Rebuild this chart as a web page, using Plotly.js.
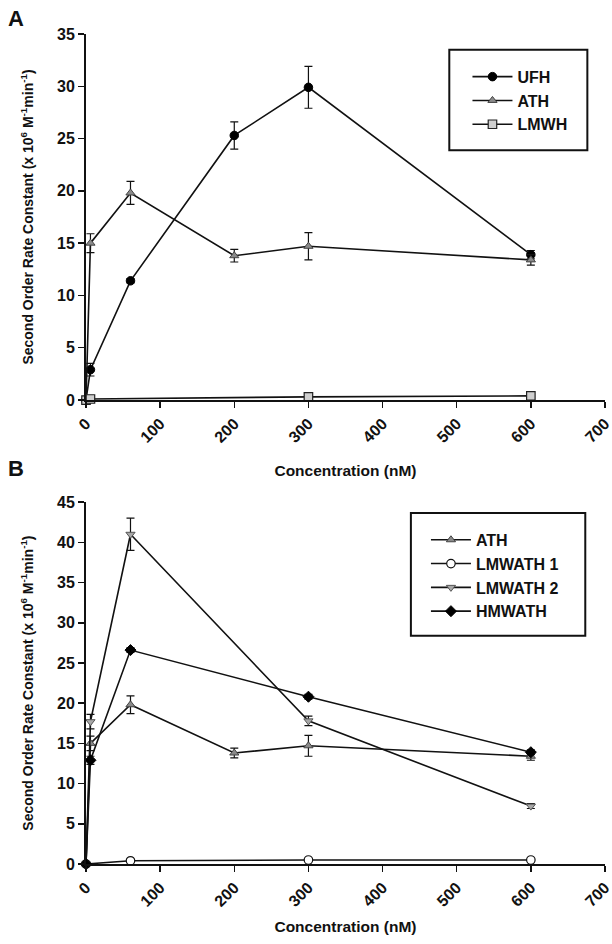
<!DOCTYPE html>
<html><head><meta charset="utf-8">
<script src="https://cdn.plot.ly/plotly-3.0.1.min.js"></script>
<style>body{margin:0;background:#fff}#c{width:612px;height:944px}</style>
</head><body><div id="c"></div>
<script>
// Panel A
const ufhX = [0, 6, 60, 200, 300, 600];
const ufhY = [0, 2.9, 11.4, 25.3, 29.9, 13.9];
const ufhE = [0, 0.6, 0.2, 1.3, 2.0, 0.4];
const athX = [0, 6, 60, 200, 300, 600];
const athY = [0, 15.0, 19.8, 13.8, 14.7, 13.4];
const athE = [0, 0.9, 1.1, 0.6, 1.3, 0.5];
const lmwhX = [0, 6, 300, 600];
const lmwhY = [0, 0.1, 0.3, 0.4];
const lmwhE = [0, 0.1, 0.1, 0.1];
// Panel B
const lmwath1X = [0, 60, 300, 600];
const lmwath1Y = [0, 0.4, 0.5, 0.5];
const lmwath1E = [0, 0.05, 0.05, 0.05];
const lmwath2X = [0, 6, 60, 300, 600];
const lmwath2Y = [0, 17.7, 41.0, 17.8, 7.2];
const lmwath2E = [0, 0.9, 2.0, 0.6, 0.3];
const hmwathX = [0, 6, 60, 300, 600];
const hmwathY = [0, 12.9, 26.6, 20.8, 13.9];
const hmwathE = [0, 0.5, 0.3, 0.3, 0.3];
const xTicks = [0, 100, 200, 300, 400, 500, 600, 700];
const yTicksA = [0, 5, 10, 15, 20, 25, 30, 35];
const yTicksB = [0, 5, 10, 15, 20, 25, 30, 35, 40, 45];

const line = {color: '#111', width: 1.6};
function err(a){return {type:'data', array:a, visible:true, color:'#111', thickness:1.2, width:4};}
function tr(x, y, e, name, marker, xa, ya, leg, show=true){
  return {x, y, error_y: err(e), name, mode:'lines+markers', type:'scatter',
    line, marker, xaxis:xa, yaxis:ya, legend:leg, showlegend:show, cliponaxis:false};
}
const mUFH = {symbol:'circle', size:8.5, color:'#000', line:{color:'#000', width:1}};
const mATH = {symbol:'triangle-up', size:8, color:'#8a8a8a', line:{color:'#444', width:1}};
const mLMWH = {symbol:'square', size:8.5, color:'#cfcfcf', line:{color:'#222', width:1.2}};
const mL1 = {symbol:'circle', size:8.5, color:'#fff', line:{color:'#111', width:1.2}};
const mL2 = {symbol:'triangle-down', size:8, color:'#a8a8a8', line:{color:'#555', width:1}};
const mH = {symbol:'diamond', size:8.5, color:'#000', line:{color:'#000', width:1}};

const data = [
  tr(ufhX, ufhY, ufhE, 'UFH', mUFH, 'x', 'y', 'legend'),
  tr(athX, athY, athE, 'ATH', mATH, 'x', 'y', 'legend'),
  tr(lmwhX, lmwhY, lmwhE, 'LMWH', mLMWH, 'x', 'y', 'legend'),
  tr(athX, athY, athE, 'ATH', mATH, 'x2', 'y2', 'legend2'),
  tr(lmwath1X, lmwath1Y, lmwath1E, 'LMWATH 1', mL1, 'x2', 'y2', 'legend2'),
  tr(lmwath2X, lmwath2Y, lmwath2E, 'LMWATH 2', mL2, 'x2', 'y2', 'legend2'),
  tr(hmwathX, hmwathY, hmwathE, 'HMWATH', mH, 'x2', 'y2', 'legend2'),
];

const F = 'Liberation Sans, Arial, sans-serif';
const tickFont = {family:F, size:16, color:'#111', weight:'bold'};
const ytitleFont = {family:F, size:14, color:'#111', weight:'bold'};
const xtitleFont = {family:F, size:15.5, color:'#111', weight:'bold'};
const ytitle = 'Second Order Rate Constant (x 10<sup>6</sup> M<sup>-1</sup>min<sup>-1</sup>)';
function xax(anchor, standoff){
  return {range:[0,700.01], tickvals:xTicks, ticktext:xTicks.map(String), tickangle:-45,
    ticklabeloverflow:'allow',
    showline:true, linecolor:'#111', linewidth:2, ticks:'outside', ticklen:6, tickwidth:1.5, tickcolor:'#111',
    showgrid:false, zeroline:false, tickfont:tickFont, anchor,
    title:{text:'Concentration (nM)', font:xtitleFont, standoff}, automargin:false};
}
function yax(range, vals, domain, anchor){
  return {range, tickvals:vals, ticktext:vals.map(String), domain, anchor,
    showline:true, linecolor:'#111', linewidth:2, ticks:'outside', ticklen:6, tickwidth:1.5, tickcolor:'#111',
    showgrid:false, zeroline:false, tickfont:tickFont,
    title:{text:ytitle, font:ytitleFont, standoff:20}, automargin:false};
}
const legBase = {bgcolor:'rgba(0,0,0,0)', borderwidth:0,
  font:{family:F, size:16, color:'#111', weight:'bold'}, itemwidth:40, tracegroupgap:0,
  xanchor:'left', yanchor:'top'};
function box(x0, x1, y0, y1){
  return {type:'rect', xref:'paper', yref:'paper', x0, x1, y0, y1,
    line:{color:'#111', width:2}, fillcolor:'rgba(0,0,0,0)', layer:'above'};
}
const layout = {
  width:612, height:944, paper_bgcolor:'#fff', plot_bgcolor:'#fff',
  margin:{l:86, r:7, t:34, b:80},
  xaxis: xax('y', 20),
  yaxis: yax([0,35], yTicksA, [0.559, 1], 'x'),
  xaxis2: xax('y2', 12),
  yaxis2: yax([0,45], yTicksB, [0, 0.436], 'x2'),
  legend: Object.assign({x:0.735, y:0.969}, legBase),
  legend2: Object.assign({x:0.655, y:0.411}, legBase),
  shapes:[ box(0.700, 0.966, 0.860, 0.981), box(0.626, 0.962, 0.275, 0.423) ],
  annotations:[
    {text:'A', x:0, y:1, xref:'paper', yref:'paper', xshift:-80, yshift:30, showarrow:false,
     font:{family:F, size:22, color:'#111', weight:'bold'}, xanchor:'left', yanchor:'top'},
    {text:'B', x:0, y:0.436, xref:'paper', yref:'paper', xshift:-80, yshift:48, showarrow:false,
     font:{family:F, size:22, color:'#111', weight:'bold'}, xanchor:'left', yanchor:'top'}
  ],
  showlegend:true
};
Plotly.newPlot('c', data, layout, {displayModeBar:false, staticPlot:true});
</script></body></html>
